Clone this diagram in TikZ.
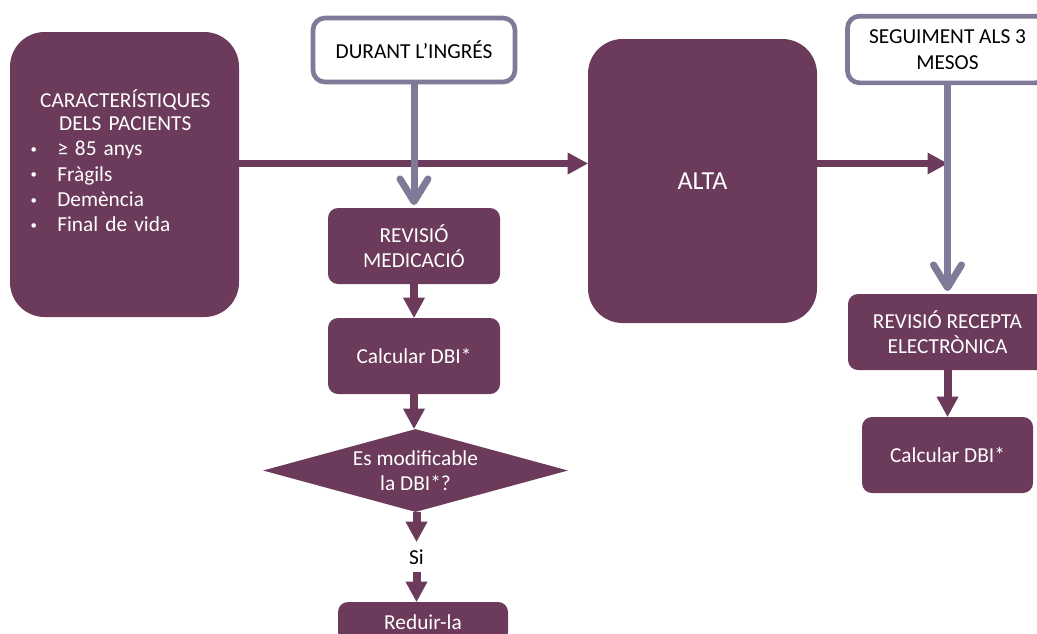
\documentclass[tikz,border=0pt]{standalone}
\usepackage{fontspec}
\setmainfont{Carlito}
\usetikzlibrary{arrows.meta,shapes.geometric}
\definecolor{plum}{HTML}{6C3A5A}
\definecolor{lilac}{HTML}{7F7A98}
\newcommand\itemdot{\makebox[21pt][l]{\hspace{1pt}\raisebox{1.6pt}{\scalebox{0.6}{•}}}}

\begin{document}
\begin{tikzpicture}[x=0.75pt,y=-0.75pt,
  basefont/.style={font=\fontsize{16}{19}\selectfont},
  plumbox/.style={basefont, fill=plum, text=white, rounded corners=7.5pt,
    inner sep=0pt, align=center},
  framebox/.style={basefont, fill=white, draw=lilac, line width=3.5pt,
    rounded corners=9pt, inner sep=0pt, align=center},
  decision/.style={basefont, diamond, shape aspect=3.8, fill=plum, text=white,
    inner sep=0pt, align=center},
  flow/.style={draw=plum, line width=6pt,
    -{Triangle[width=16.5pt,length=15pt,line width=0pt]}},
  flowh/.style={flow, line width=5.25pt},
  timeline/.style={draw=lilac, line width=5.25pt, shorten >=2pt,
    -{Straight Barb[length=17pt,width=21pt,round]}},
]
\useasboundingbox (0,0) rectangle (1037,633);
\clip (0,0) rectangle (1037,633);

% patient profile
\node[plumbox, rounded corners=26pt, minimum width=171.75pt,
      minimum height=213.75pt] (pat) at (124.5,174.5) {};
\node[basefont, text=white, inner sep=0pt, anchor=north west,
      text width=144pt] (pattxt) at (29,89) {%
  {\centering\fontsize{16}{17.25}\selectfont
   CARACTERÍSTIQUES\\DELS PACIENTS\par}
  \raggedright\fontsize{16}{19.1}\selectfont
  \itemdot≥ 85 anys\\
  \itemdot Fràgils\\
  \itemdot Demència\\
  \itemdot Final de vida\par};

% during admission
\node[framebox, minimum width=151.5pt, minimum height=48pt]
  (ingres) at (414,50) {DURANT L’INGRÉS};
\node[plumbox, minimum width=129pt, minimum height=57pt]
  (rev) at (414,246) {REVISIÓ\\MEDICACIÓ};
\node[plumbox, minimum width=129pt, minimum height=57pt]
  (calc) at (414,356) {Calcular DBI*};
\node[decision, minimum width=228.75pt, minimum height=62.25pt]
  (mod) at (415.5,470.5) {Es modificable\\la DBI*?};
\node[basefont, inner sep=0pt, minimum height=22.5pt]
  (si) at (416.5,557) {Si};
\node[plumbox, minimum width=127.5pt, minimum height=30pt]
  (red) at (423,622) {Reduir-la};

% discharge
\node[plumbox, rounded corners=26pt, minimum width=171.75pt,
      minimum height=213pt, font=\fontsize{19.5}{23}\selectfont]
  (alta) at (702.5,181) {ALTA};

% three-month follow-up
\node[framebox, minimum width=150pt, minimum height=50pt]
  (seg) at (947.5,49.5) {SEGUIMENT ALS 3\\MESOS};
\node[plumbox, minimum width=149.25pt, minimum height=57pt]
  (rec) at (947.5,332) {REVISIÓ RECEPTA\\ELECTRÒNICA};
\node[plumbox, minimum width=128.25pt, minimum height=57pt]
  (calc2) at (947.5,455) {Calcular DBI*};

% main timeline
\coordinate (mainline) at (0,163.5);
\draw[flowh] (pat.east |- mainline) -- (alta.west |- mainline);
\draw[flowh] (alta.east |- mainline) -- (seg.south |- mainline);

% stage connectors
\draw[timeline] (ingres.south) -- (rev.north);
\draw[timeline] (seg.south) -- (rec.north);

% steps
\draw[flow] (rev.south) -- (calc.north);
\draw[flow] (calc.south) -- (calc.south |- mod.north);
\draw[flow] (si.north |- mod.south) -- (si.north);
\draw[flow] (si.south) -- (si.south |- red.north);
\draw[flow] (rec.south) -- (calc2.north);
\end{tikzpicture}
\end{document}
